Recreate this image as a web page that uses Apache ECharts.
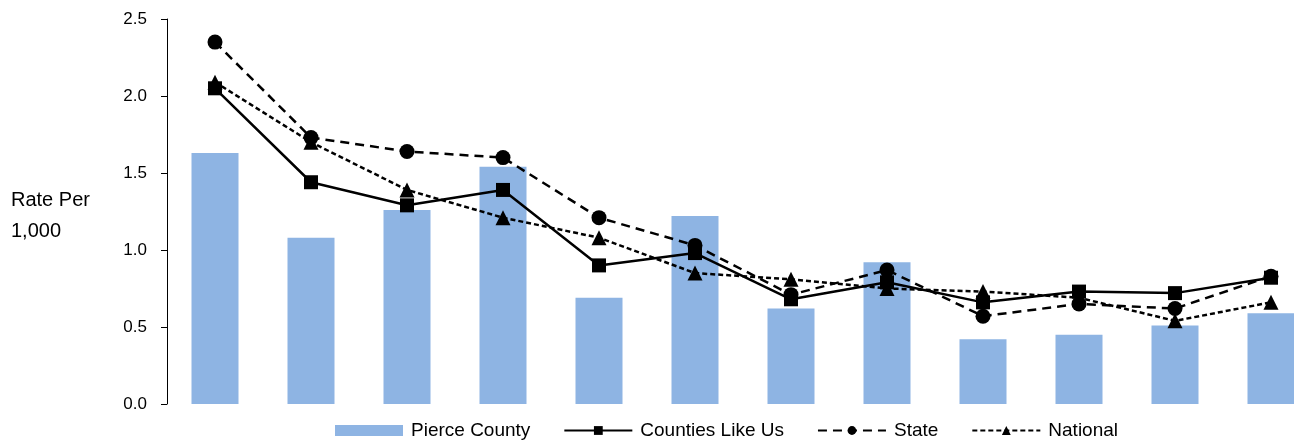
<!DOCTYPE html>
<html><head><meta charset="utf-8">
<script src="https://cdn.jsdelivr.net/npm/echarts@6/dist/echarts.min.js"></script>
<style>html,body{margin:0;padding:0;background:#fff}#c{width:1294px;height:441px}</style>
</head><body><div id="c"></div>
<script>
const categories = ['1','2','3','4','5','6','7','8','9','10','11','12'];
const pierceCounty = [1.63,1.08,1.26,1.54,0.69,1.22,0.62,0.92,0.42,0.45,0.51,0.59];
const countiesLikeUs = [2.05,1.44,1.29,1.39,0.90,0.98,0.68,0.79,0.66,0.73,0.72,0.82];
const stateRate = [2.35,1.73,1.64,1.60,1.21,1.03,0.71,0.87,0.57,0.65,0.62,0.83];
const nationalRate = [2.09,1.70,1.39,1.21,1.08,0.85,0.81,0.75,0.73,0.69,0.54,0.66];
const yTicks = [0,0.5,1,1.5,2,2.5];

// the original plot area is cropped on the right: each category slot is ~96px wide
const slotPx = 96, plotLeft = 167, plotRight = 1294;
const pairs = arr => arr.map((v,i)=>[i,v]);

const FONT = '"Liberation Sans",Arial,sans-serif';
const chart = echarts.init(document.getElementById('c'));
chart.setOption({
  animation:false,
  grid:{left:plotLeft,right:1294-plotRight,top:19,bottom:37},
  graphic:[{type:'text',left:11,top:185,style:{text:'Rate Per\n1,000',font:'20px '+FONT,fill:'#000',lineHeight:31}}],
  legend:{left:330,top:416,itemGap:33,itemWidth:68,itemHeight:11,
    textStyle:{fontFamily:FONT,fontSize:19,color:'#000',padding:[0,0,0,3]},
    data:[{name:'Pierce County',icon:'rect'},{name:'Counties Like Us'},{name:'State'},{name:'National'}]},
  xAxis:{type:'value',min:-0.5,max:-0.5+(plotRight-plotLeft)/slotPx,
    axisLine:{show:false,onZero:false},axisTick:{show:false},axisLabel:{show:false},splitLine:{show:false}},
  yAxis:{type:'value',min:yTicks[0],max:yTicks[yTicks.length-1],interval:0.5,
    axisLine:{show:true,onZero:false,lineStyle:{color:'#000'}},axisTick:{show:true,length:6,lineStyle:{color:'#000'}},
    splitLine:{show:false},
    axisLabel:{fontFamily:FONT,fontSize:17,color:'#000',margin:20,formatter:v=>v.toFixed(1)}},
  series:[
    {name:'Pierce County',type:'bar',data:pairs(pierceCounty),barWidth:47,itemStyle:{color:'#8EB4E3'}},
    {name:'Counties Like Us',type:'line',data:pairs(countiesLikeUs),symbol:'rect',symbolSize:14,
      lineStyle:{color:'#000',width:2.5,type:'solid'},itemStyle:{color:'#000'}},
    {name:'State',type:'line',data:pairs(stateRate),symbol:'circle',symbolSize:15,
      lineStyle:{color:'#000',width:2.5,type:[9,6]},itemStyle:{color:'#000'}},
    {name:'National',type:'line',data:pairs(nationalRate),symbol:'triangle',symbolSize:15,
      lineStyle:{color:'#000',width:2.5,type:[5,3]},itemStyle:{color:'#000'}}
  ]
});
</script></body></html>
